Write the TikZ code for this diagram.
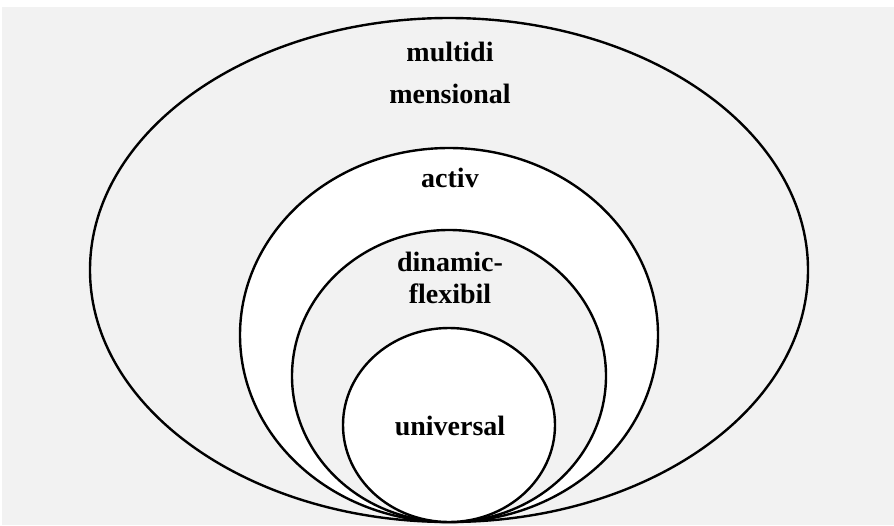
\documentclass[tikz,border=0pt]{standalone}
\usepackage{fontspec}
\setmainfont{Liberation Serif}
\usetikzlibrary{shapes.geometric}
\definecolor{paper}{HTML}{F2F2F2}
\begin{document}
\begin{tikzpicture}[x=1pt,y=-1pt,
  ring/.style={ellipse, draw=black, line width=2.4pt, inner sep=0pt},
  lbl/.style={font=\fontsize{28}{32}\selectfont\bfseries, align=center, inner sep=0pt}]
\useasboundingbox (0,0) rectangle (894,525);
\fill[paper] (2,7) rectangle (894,525);
% nested rings, all touching at the bottom
\node[ring, fill=paper, minimum width=718pt, minimum height=504pt] (outer) at (449,270) {};
\node[ring, fill=white, minimum width=418pt, minimum height=374pt] (activ) at (449,335) {};
\node[ring, fill=paper, minimum width=314pt, minimum height=292pt] (dinam) at (449,376) {};
\node[ring, fill=white, minimum width=212pt, minimum height=194pt] (univ) at (449,425) {};
% labels
\node[lbl] (t1) at (450,52) {multidi};
\node[lbl] (t2) at (450,94) {mensional};
\node[lbl] (t3) at (450,178) {activ};
\node[lbl] (t4) at (450,262) {dinamic-};
\node[lbl] (t5) at (450,294) {flexibil};
\node[lbl] (t6) at (450,426) {universal};
\end{tikzpicture}
\end{document}
